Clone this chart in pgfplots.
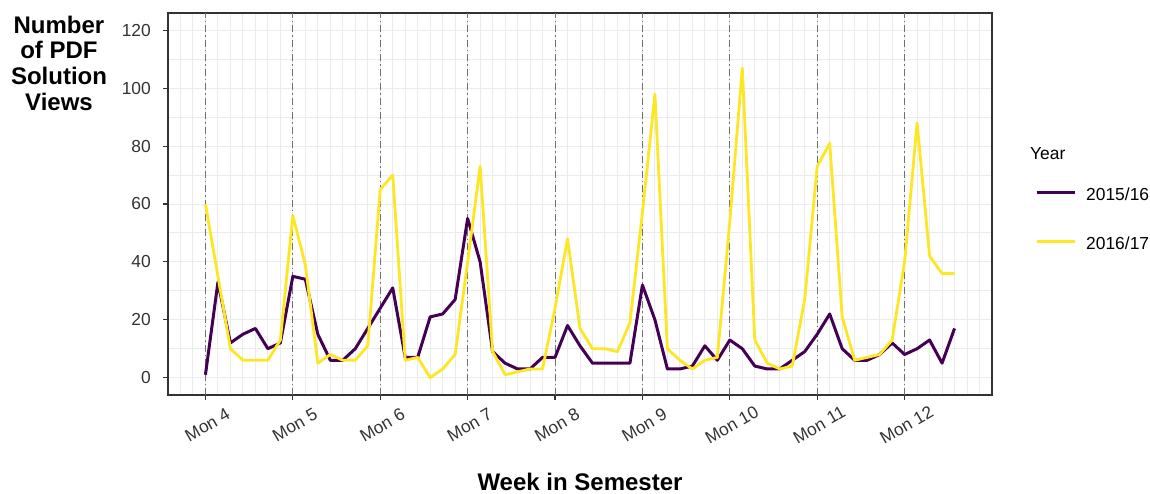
\documentclass[border=0pt]{standalone}
\usepackage{fontspec}
\setmainfont{Liberation Sans}
\usepackage{pgfplots}
\usepackage{pgfplotstable}
\pgfplotsset{compat=1.18}
\definecolor{vpurple}{HTML}{440154}
\definecolor{vyellow}{HTML}{FDE725}
\definecolor{gridc}{HTML}{EBEBEB}
\definecolor{framec}{HTML}{333333}
\definecolor{vlinec}{HTML}{707070}

\pgfplotstableread{
day views
0 1
1 33
2 12
3 15
4 17
5 10
6 12
7 35
8 34
9 15
10 6
11 6
12 10
13 17
14 24
15 31
16 7
17 7
18 21
19 22
20 27
21 55
22 40
23 9
24 5
25 3
26 3
27 7
28 7
29 18
30 11
31 5
32 5
33 5
34 5
35 32
36 20
37 3
38 3
39 4
40 11
41 6
42 13
43 10
44 4
45 3
46 3
47 6
48 9
49 15
50 22
51 10
52 6
53 6
54 8
55 12
56 8
57 10
58 13
59 5
60 17
}\yrA

\pgfplotstableread{
day views
0 60
1 35
2 10
3 6
4 6
5 6
6 13
7 56
8 39
9 5
10 8
11 6
12 6
13 11
14 65
15 70
16 6
17 7
18 0
19 3
20 8
21 40
22 73
23 9
24 1
25 2
26 3
27 3
28 24
29 48
30 17
31 10
32 10
33 9
34 19
35 57
36 98
37 10
38 6
39 3
40 6
41 7
42 54
43 107
44 13
45 5
46 3
47 4
48 27
49 73
50 81
51 21
52 6
53 7
54 8
55 13
56 40
57 88
58 42
59 36
60 36
}\yrB

\begin{document}
\begin{tikzpicture}[x=1pt,y=1pt]
\useasboundingbox (0,0) rectangle (1150,493);
\begin{axis}[
  at={(168pt,98pt)}, anchor=south west,
  scale only axis, width=824pt, height=382pt,
  xmin=-3, xmax=63, ymin=-6, ymax=126,
  xtick={0,7,...,56},
  xticklabels={Mon 4,Mon 5,Mon 6,Mon 7,Mon 8,Mon 9,Mon 10,Mon 11,Mon 12},
  minor xtick={-3,...,63},
  ytick={0,20,...,120},
  minor ytick={10,30,...,110},
  xmajorgrids, xminorgrids, ymajorgrids, yminorgrids,
  major grid style={gridc, line width=1pt},
  minor grid style={gridc, line width=1pt},
  axis line style={framec, line width=1.3pt},
  tick style={framec, line width=1.2pt},
  tick align=outside,
  major tick length=5pt, minor tick length=0pt,
  xtick pos=lower, ytick pos=left,
  /pgf/number format/assume math mode=true,
  ticklabel style={font=\fontsize{17.4}{20}\selectfont, text=black!80},
  yticklabel style={inner sep=0pt, xshift=-12pt},
  xticklabel style={anchor=center, inner sep=0pt, xshift=2pt, yshift=-25pt, rotate=30},
  xlabel={Week in Semester},
  xlabel style={font=\bfseries\fontsize{24}{28}\selectfont, at={(axis description cs:0.5,-0.2277)}, anchor=center},
  ylabel={Number\\of PDF\\Solution\\Views},
  ylabel style={font=\bfseries\fontsize{24}{25.7}\selectfont, align=center, rotate=-90, at={(axis description cs:-0.1323,0.869)}, anchor=center},
  legend style={draw=none, fill=none, inner sep=0pt,
    at={(axis description cs:1.0522,0.5419)}, anchor=north west,
    row sep=33pt, column sep=10pt,
    font=\fontsize{17.4}{20}\selectfont,
    nodes={inner sep=0pt, text height=12pt, text depth=4pt},
    cells={anchor=west}},
  legend image code/.code={\draw[#1] (0pt,4pt) -- (38pt,4pt);},
]
\pgfplotsinvokeforeach{0,7,14,21,28,35,42,49,56}{
  \draw[vlinec, line width=1pt, dash pattern=on 7pt off 3pt on 1.5pt off 3pt] (axis cs:#1,-6) -- (axis cs:#1,126);
}
\addplot[vpurple, line width=3pt, line join=round] table[x=day, y=views] {\yrA};
\addlegendentry{2015/16}
\addplot[vyellow, line width=2.8pt, line join=round] table[x=day, y=views] {\yrB};
\addlegendentry{2016/17}
\end{axis}
\node[anchor=west, inner sep=0pt, font=\fontsize{17.4}{20}\selectfont] at (1030,339.5) {Year};
\end{tikzpicture}
\end{document}
